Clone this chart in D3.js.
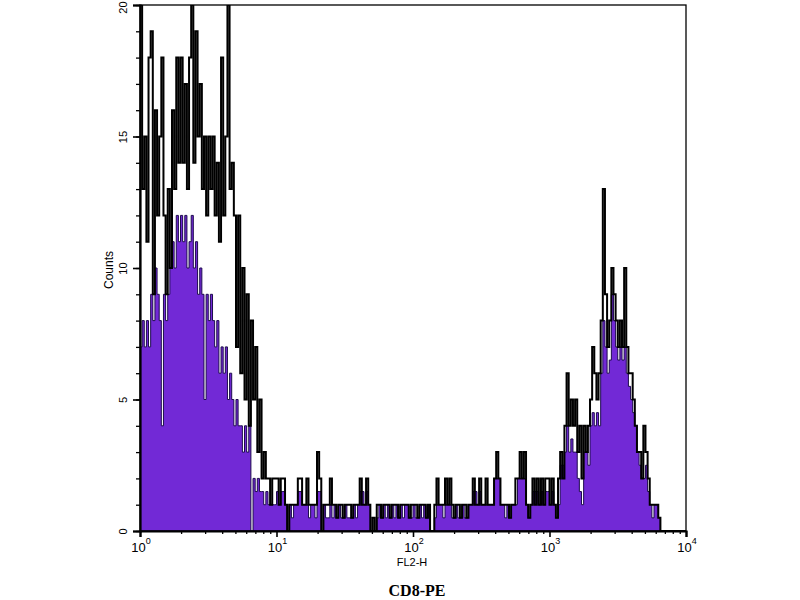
<!DOCTYPE html>
<html>
<head>
<meta charset="utf-8">
<script src="https://cdn.jsdelivr.net/npm/d3@7"></script>
<style>
  html, body { margin: 0; padding: 0; background: #ffffff; }
  svg { display: block; }
</style>
</head>
<body>
<svg id="chart" width="800" height="600"></svg>
<script>
// ---- Data ----
// 256 channels spanning 10^0 .. 10^4 (64 channels per decade)
const binsPerDecade = 64;

// Black outline histogram (unfilled)
const outlineCounts = [
  20,13,15,11,18,19,9,16,12,15,18,12,9,13,10,16,
  13,18,14,18,14,17,13,18,20,14,19,15,17,13,15,12,
  15,13,15,12,14,11,18,12,15,20,13,14,12,7,12,6,
  10,5,9,4,8,5,7,3,5,2,3,2,2,1,2,2,
  2,1,2,2,1,0,1,1,1,1,2,2,1,1,2,1,
  1,1,1,3,2,0,1,1,1,2,1,1,0.5,1,1,0.5,
  1,1,1,0.5,1,1,1,2,1,1,2,1,0,0.5,0,1,
  1,0.5,1,1,1,0.5,1,1,1,0.5,1,1,1,1,0.5,1,
  1,1,0.5,1,1,1,0.5,1,0,0,1,2,1,1,1,2,
  1,2,1,0.5,1,1,0.5,1,1,0.5,1,1,2,1,1,2,
  1,1,2,1,1,1,2,3,2,1,1,1,1,0.5,1,1,
  2,2,3,2,3,1,0.5,1,2,1,2,1,2,1,2,2,
  1,2,1,0.5,2,3,2,4,6,4,5,4,5,3,4,2,
  4,3,4,5,7,6,5,6,8,13,9,7,8,10,9,8,
  7,8,7,10,7,6,6,5,4,3,3,2,4,3,2,1,
  1,1,1,0.5,0,0,0,0,0,0,0,0,0,0,0,0
];

// Purple filled histogram (CD8-PE)
const cd8Counts = [
  7,8,7,8,7,9,8,10,9,8,4,9,8,9,10,11,
  10,12,11,12,11,12,10,11,12,10,11,9,10,9,5,9,
  8,9,8,7,8,6,7,6,7,5,6,5,4,5,4,4,
  3,4,3,4,0,2,1.5,2,1.5,1.5,1,1.5,1,1,1,1,
  1.5,1,1.5,1.5,1,0,1,0.5,1,1,1.5,1.5,1,1,1,0.5,
  1,1,0.5,1.5,1.5,0,1,0.5,0.5,1,0.5,1,0.5,1,0.5,0.5,
  1,0.5,0.5,0.5,1,0.5,1,1.5,1.5,1,1.5,1,0,0,0,0.5,
  1,0.5,1,0.5,1,0.5,1,0.5,1,0.5,1,0.5,1,1,0.5,0.5,
  1,0.5,0.5,1,0.5,1,0.5,1,0,0,0.5,1,1,1,0.5,1,
  1,1,0.5,0.5,1,0.5,0.5,1,0.5,0.5,1,1,1.5,1.5,1,1.5,
  1,1,1,1,1,1,2,2,2,1,1,0.5,1,0.5,1,1,
  1,2,2,2,2,1,0.5,1,1.5,1.5,1.5,1,1.5,1,1.5,1.5,
  1,1.5,1,0.5,1,2.5,2.5,3,4,3,3.5,3,3,2,1.5,1,
  3,3,2.5,4,4.5,4,4.5,4,6,8,7,6,6.5,9,8,7,
  6.5,7,6.5,7,6,5.5,5,4.5,4,3,2.5,2,2,2.5,1.5,1,
  0.5,1,1,0.5,0,0,0,0,0,0,0,0,0,0,0,0
];

const yMajorTicks = [0, 5, 10, 15, 20];
const yMinorTicks = d3.range(0, 21, 1);
const xDecades = [0, 1, 2, 3, 4];
const xLabel = "FL2-H";
const yLabel = "Counts";
const title = "CD8-PE";

// ---- Layout ----
const svg = d3.select("#chart");
const pLeft = 140, pRight = 686, pTop = 5, pBottom = 531;

const x = d3.scaleLog().domain([1, 10000]).range([pLeft, pRight]);
const y = d3.scaleLinear().domain([0, 20]).range([pBottom, pTop]);

svg.append("rect").attr("width", 800).attr("height", 600).attr("fill", "#ffffff");

svg.append("defs").append("clipPath").attr("id", "plotclip")
  .append("rect").attr("x", pLeft).attr("y", pTop).attr("width", pRight - pLeft).attr("height", pBottom - pTop);

function toPoints(counts) {
  const edge = i => Math.pow(10, i / binsPerDecade);
  const pts = [[edge(0), 0]];
  counts.forEach((c, i) => pts.push([edge(i), c]));
  pts.push([edge(counts.length), 0]);
  return pts;
}

const g = svg.append("g").attr("clip-path", "url(#plotclip)");

const area = d3.area()
  .x(d => x(d[0])).y0(y(0)).y1(d => y(d[1]))
  .curve(d3.curveStepAfter);
const line = d3.line()
  .x(d => x(d[0])).y(d => y(d[1]))
  .curve(d3.curveStepAfter);

g.append("path")
  .datum(toPoints(cd8Counts))
  .attr("d", area)
  .attr("fill", "#7229d6")
  .attr("stroke", "#1e0c4e")
  .attr("stroke-width", 1);

g.append("path")
  .datum(toPoints(outlineCounts))
  .attr("d", line)
  .attr("fill", "none")
  .attr("stroke", "#000000")
  .attr("stroke-width", 2.0);

// ---- Frame ----
svg.append("rect")
  .attr("x", pLeft).attr("y", pTop)
  .attr("width", pRight - pLeft).attr("height", pBottom - pTop)
  .attr("fill", "none").attr("stroke", "#000").attr("stroke-width", 1.3);

// ---- Y axis ----
const yMinorAxis = d3.axisLeft(y).tickValues(yMinorTicks).tickSize(4).tickFormat("");
const yMajorAxis = d3.axisLeft(y).tickValues(yMajorTicks).tickSize(7).tickFormat(d3.format("d"));

const gyMinor = svg.append("g").attr("transform", `translate(${pLeft},0)`).call(yMinorAxis);
gyMinor.select(".domain").remove();
gyMinor.selectAll("line").attr("stroke-width", 1.3);

const gyMajor = svg.append("g").attr("transform", `translate(${pLeft},0)`).call(yMajorAxis);
gyMajor.select(".domain").attr("stroke-width", 2.2);
gyMajor.selectAll("line").attr("stroke-width", 1.6);
gyMajor.selectAll("text")
  .attr("font-family", "Liberation Sans, Arial, sans-serif")
  .attr("font-size", 11)
  .attr("fill", "#000")
  .attr("x", 0).attr("dy", null)
  .attr("text-anchor", "middle")
  .attr("dominant-baseline", "central")
  .attr("transform", d => `translate(-17,${d === 20 ? 2 : 0}) rotate(-90)`);

svg.append("text")
  .attr("transform", `translate(113,270) rotate(-90)`)
  .attr("text-anchor", "middle")
  .attr("font-family", "Liberation Sans, Arial, sans-serif")
  .attr("font-size", 12)
  .attr("fill", "#000")
  .text(yLabel);

// ---- X axis ----
const xMinorVals = [];
xDecades.slice(0, -1).forEach(k => { for (let m = 2; m <= 9; m++) xMinorVals.push(m * Math.pow(10, k)); });
const xMinorAxis = d3.axisBottom(x).tickValues(xMinorVals).tickSize(3).tickFormat("");
const xMajorAxis = d3.axisBottom(x).tickValues(xDecades.map(k => Math.pow(10, k))).tickSize(6).tickFormat("");

const gxMinor = svg.append("g").attr("transform", `translate(0,${pBottom})`).call(xMinorAxis);
gxMinor.select(".domain").remove();
gxMinor.selectAll("line").attr("stroke-width", 1.3);
const gxMajor = svg.append("g").attr("transform", `translate(0,${pBottom})`).call(xMajorAxis);
gxMajor.select(".domain").attr("stroke-width", 2.2);
gxMajor.selectAll("line").attr("stroke-width", 1.6);

const xl = svg.append("g").selectAll("text").data(xDecades).join("text")
  .attr("x", k => x(Math.pow(10, k)) + 1)
  .attr("y", 552)
  .attr("text-anchor", "middle")
  .attr("font-family", "Liberation Sans, Arial, sans-serif")
  .attr("fill", "#000");
xl.append("tspan").attr("font-size", 13).text("10");
xl.append("tspan").attr("font-size", 9).attr("dy", -8).text(k => String(k));

svg.append("text")
  .attr("x", 412).attr("y", 566)
  .attr("text-anchor", "middle")
  .attr("font-family", "Liberation Sans, Arial, sans-serif")
  .attr("font-size", 11)
  .attr("fill", "#000")
  .text(xLabel);

svg.append("text")
  .attr("x", 417).attr("y", 596)
  .attr("text-anchor", "middle")
  .attr("font-family", "Liberation Serif, DejaVu Serif, serif")
  .attr("font-weight", "bold")
  .attr("font-size", 16)
  .attr("fill", "#000")
  .text(title);
</script>
</body>
</html>
